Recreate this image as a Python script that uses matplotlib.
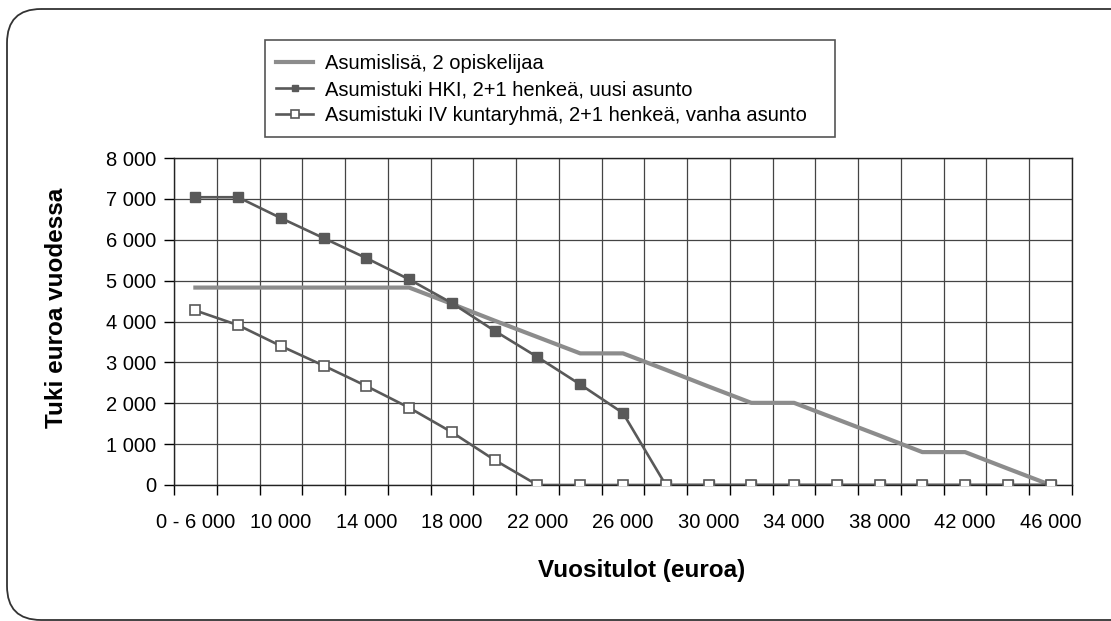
import matplotlib.pyplot as plt
from matplotlib.patches import FancyBboxPatch, Rectangle

plt.rcParams['font.family'] = ['Liberation Sans', 'DejaVu Sans']

# ------------ DATA ------------
tulot = ["0 - 6 000", "8 000", "10 000", "12 000", "14 000", "16 000", "18 000",
         "20 000", "22 000", "24 000", "26 000", "28 000", "30 000", "32 000",
         "34 000", "36 000", "38 000", "40 000", "42 000", "44 000", "46 000"]

asumislisa = [4830, 4830, 4830, 4830, 4830, 4830, 4430, 4020, 3620, 3220, 3220,
              2820, 2410, 2010, 2010, 1610, 1210, 805, 805, 400, 0]
hki_uusi = [7040, 7040, 6530, 6040, 5550, 5030, 4450, 3770, 3130, 2460, 1760,
            0, 0, 0, 0, 0, 0, 0, 0, 0, 0]
iv_vanha = [4270, 3910, 3400, 2920, 2420, 1890, 1290, 610, 0, 0, 0,
            0, 0, 0, 0, 0, 0, 0, 0, 0, 0]

labels = ["Asumislisä, 2 opiskelijaa",
          "Asumistuki HKI, 2+1 henkeä, uusi asunto",
          "Asumistuki IV kuntaryhmä, 2+1 henkeä, vanha asunto"]
# ------------------------------

W, H = 1111, 621
fig = plt.figure(figsize=(W / 100, H / 100), dpi=100)

# taustakerros pikselikoordinaateissa (kehys + selitteen laatikko)
bg = fig.add_axes([0, 0, 1, 1], zorder=-1)
bg.set_xlim(0, W)
bg.set_ylim(H, 0)
bg.axis("off")
bg.add_patch(FancyBboxPatch((7, 9), 1140, 611,
                            boxstyle="round,pad=0,rounding_size=34",
                            fill=False, edgecolor="#333333", linewidth=1.3))
bg.add_patch(Rectangle((265, 40), 570, 97, fill=False,
                       edgecolor="#555555", linewidth=1.2))

ax = fig.add_axes([174 / W, 1 - 485 / H, (1072 - 174) / W, (485 - 158) / H])
ax.patch.set_alpha(0)

x = list(range(len(tulot)))
ax.plot(x, asumislisa, color="#8c8c8c", linewidth=3, label=labels[0], zorder=3)
ax.plot(x, hki_uusi, color="#595959", linewidth=1.9, marker="s", markersize=6.5,
        markerfacecolor="#595959", markeredgecolor="#595959", label=labels[1], zorder=4)
ax.plot(x, iv_vanha, color="#595959", linewidth=1.9, marker="s", markersize=7,
        markerfacecolor="white", markeredgecolor="#595959", markeredgewidth=1.2,
        label=labels[2], zorder=5)

ax.set_xlim(-0.5, len(tulot) - 0.5)
ax.set_ylim(0, 8000)

ax.set_xticks(x[::2])
ax.set_xticklabels(tulot[::2], fontsize=14.5)
ax.set_xticks([i - 0.5 for i in range(len(tulot) + 1)], minor=True)
ax.tick_params(axis="x", which="major", length=0, pad=20)
ax.tick_params(axis="x", which="minor", length=7, color="black", width=1)

yt = list(range(0, 8001, 1000))
ax.set_yticks(yt)
ax.set_yticklabels([f"{v:,}".replace(",", " ") for v in yt], fontsize=14.5)
ax.tick_params(axis="y", length=7, pad=6, color="black", width=1)

ax.grid(True, axis="y", which="major", color="#444444", linewidth=0.9)
ax.grid(True, axis="x", which="minor", color="#444444", linewidth=0.9)
ax.set_axisbelow(True)
for s in ax.spines.values():
    s.set_color("#222222")
    s.set_linewidth(1)

fig.text(57 / W, 1 - 308 / H, "Tuki euroa vuodessa", rotation=90, fontsize=17.5,
         fontweight="bold", ha="center", va="center")
fig.text(642 / W, 1 - 570 / H, "Vuositulot (euroa)", fontsize=17.5,
         fontweight="bold", ha="center", va="center")

leg = fig.legend(loc="upper left", bbox_to_anchor=(270 / W, 1 - 48 / H),
                 fontsize=14.5, frameon=False, handlelength=1.85,
                 borderpad=0.3, labelspacing=0.35, handletextpad=0.6,
                 markerscale=0.75, borderaxespad=0)

fig.savefig("out.png", dpi=100)
